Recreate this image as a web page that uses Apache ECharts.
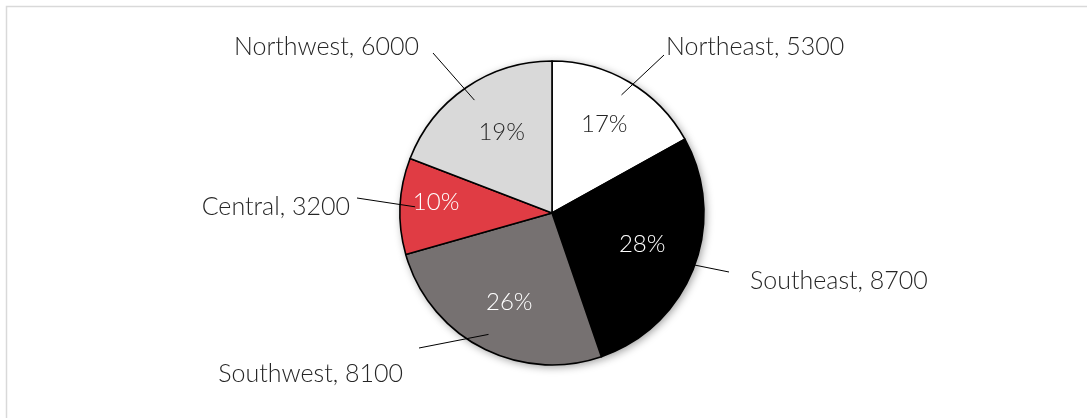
<!DOCTYPE html>
<html>
<head>
<meta charset="utf-8">
<script src="https://cdn.jsdelivr.net/npm/echarts@6/dist/echarts.min.js"></script>
<style>
  html, body { margin: 0; padding: 0; background: #fff; }
  #chart { width: 1087px; height: 418px; }
</style>
</head>
<body>
<div id="chart"></div>
<script>
// Regional totals, clockwise from twelve o'clock
const regions = ['Northeast', 'Southeast', 'Southwest', 'Central', 'Northwest'];
const amounts = [5300, 8700, 8100, 3200, 6000];

// Slice fills and the colour of the percentage printed on each slice
const sliceColors = ['#FFFFFF', '#000000', '#767171', '#E03C44', '#D9D9D9'];
const pctColors = ['#262626', '#FFFFFF', '#FFFFFF', '#FFFFFF', '#262626'];

const FONT = 'Lato';
const TEXT = '#262626';
const CENTER = [552, 213];
const R = 152;

// Callout placement: anchor point (end of the leader line), alignment and
// padding that puts the text beside it
const callouts = [
  { x: 664, y: 55,  align: 'left',  padding: [0, 0, 16, 2] },
  { x: 729, y: 272, align: 'left',  padding: [17, 0, 0, 21] },
  { x: 419, y: 348, align: 'right', padding: [52, 16, 0, 0] },
  { x: 357, y: 198, align: 'right', padding: [18, 7, 0, 0] },
  { x: 433, y: 53,  align: 'right', padding: [0, 14, 12, 0] }
];
// Small nudges for percentage labels that sit off the slice bisector
const pctPadding = [0, [0, 12, 12, 0], [0, 0, 4, 10], [0, 26, 12, 0], [9, 0, 0, 16]];

function items(extra) {
  return regions.map((name, i) => Object.assign({ name: name, value: amounts[i] }, extra ? extra(i) : {}));
}

const pctText = { fontFamily: FONT, fontSize: 24, fontWeight: 300 };
const nameText = { fontFamily: FONT, fontSize: 25, fontWeight: 300, color: TEXT };

const chart = echarts.init(document.getElementById('chart'), null, { renderer: 'canvas' });

chart.setOption({
  animation: false,
  backgroundColor: '#FFFFFF',
  graphic: [{
    type: 'rect',
    silent: true,
    z: -10,
    shape: { x: 6.5, y: 6.5, width: 1100, height: 430 },
    style: { fill: 'none', stroke: '#D9D9D9', lineWidth: 1.5 }
  }],
  series: [
    {
      // soft drop shadow under the pie
      type: 'pie', z: 1, silent: true, center: CENTER, radius: R,
      startAngle: 90, clockwise: true,
      label: { show: false }, labelLine: { show: false },
      itemStyle: {
        color: '#FFFFFF', borderWidth: 0,
        shadowBlur: 8, shadowOffsetX: 2, shadowOffsetY: 2, shadowColor: 'rgba(0,0,0,0.4)'
      },
      data: items()
    },
    {
      // the slices
      type: 'pie', z: 2, silent: true, center: CENTER, radius: R,
      startAngle: 90, clockwise: true,
      label: { show: false }, labelLine: { show: false },
      itemStyle: { borderColor: '#000000', borderWidth: 1.6 },
      data: items(i => ({ itemStyle: { color: sliceColors[i] } }))
    },
    {
      // percentage labels
      type: 'pie', z: 3, silent: true, center: CENTER, radius: [48, R],
      startAngle: 90, clockwise: true, percentPrecision: 0,
      avoidLabelOverlap: false,
      itemStyle: { color: 'rgba(0,0,0,0)', borderWidth: 0 },
      label: {
        show: true, position: 'inside', formatter: '{p|{d}%}',
        rich: { p: Object.assign({}, pctText) }
      },
      labelLine: { show: false },
      data: items(i => ({
        label: { rich: { p: Object.assign({}, pctText, { color: pctColors[i], padding: pctPadding[i] }) } }
      }))
    },
    {
      // category callouts with leader lines
      type: 'pie', z: 4, silent: true, center: CENTER, radius: [0, 137],
      startAngle: 90, clockwise: true,
      avoidLabelOverlap: false,
      itemStyle: { color: 'rgba(0,0,0,0)', borderWidth: 0 },
      label: {
        show: true, position: 'outside', formatter: '{t|{b}, {c}}',
        backgroundColor: 'rgba(255,255,255,0)',
        rich: { t: Object.assign({}, nameText) }
      },
      labelLine: {
        show: true, length: 20, length2: 0, smooth: false,
        lineStyle: { color: '#000000', width: 1 }
      },
      labelLayout: function (p) {
        const c = callouts[p.dataIndex];
        return { x: c.x, y: c.y, align: c.align, verticalAlign: 'middle' };
      },
      data: items(i => ({
        label: { rich: { t: Object.assign({}, nameText, { padding: callouts[i].padding }) } }
      }))
    }
  ]
});
</script>
</body>
</html>
